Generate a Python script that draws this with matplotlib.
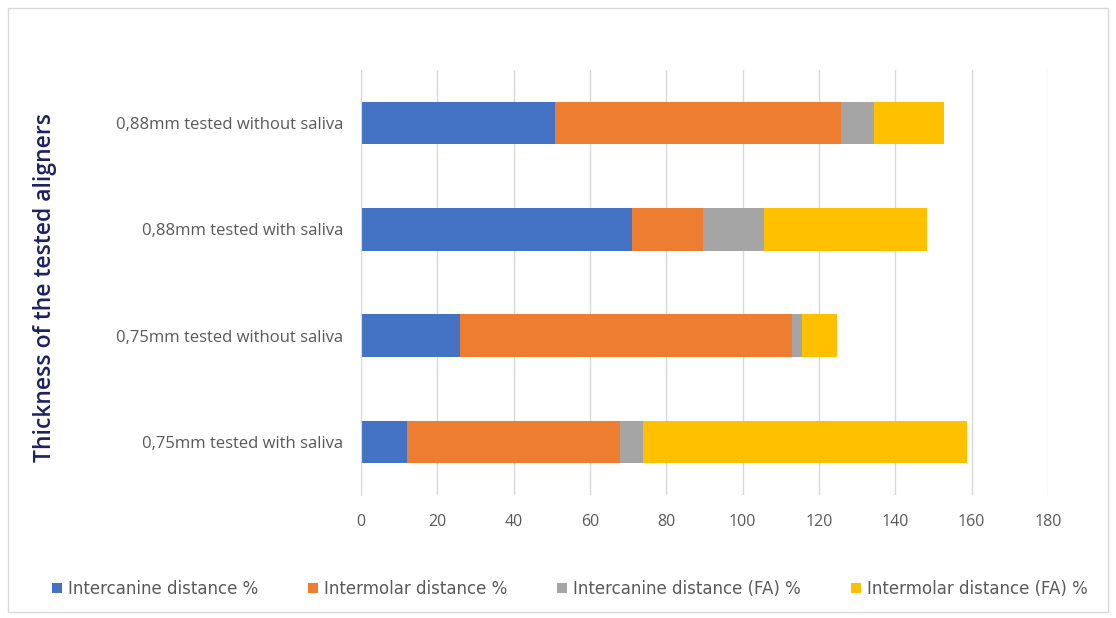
import matplotlib
matplotlib.use("Agg")
import matplotlib.pyplot as plt
from matplotlib.patches import Rectangle
import numpy as np

categories = ["0,75mm tested with saliva", "0,75mm tested without saliva",
              "0,88mm tested with saliva", "0,88mm tested without saliva"]
series_names = ["Intercanine distance %", "Intermolar distance %",
                "Intercanine distance (FA) %", "Intermolar distance (FA) %"]
intercanine = [12.0, 25.9, 71.0, 50.9]
intermolar = [55.8, 86.9, 18.7, 74.8]
intercanine_fa = [6.1, 2.7, 16.0, 8.8]
intermolar_fa = [84.8, 9.3, 42.7, 18.2]
x_ticks = [0, 20, 40, 60, 80, 100, 120, 140, 160, 180]
colors = ["#4472C4", "#ED7D31", "#A5A5A5", "#FFC000"]

fig = plt.figure(figsize=(11.16, 6.18), dpi=100)
ax = fig.add_axes([361/1116, 1-495/618, 687/1116, 425/618])

y = np.arange(len(categories))
left = np.zeros(len(categories))
for vals, name, c in zip([intercanine, intermolar, intercanine_fa, intermolar_fa], series_names, colors):
    ax.barh(y, vals, left=left, height=0.4, color=c, label=name)
    left += np.array(vals)

ax.set_xlim(0, 180)
ax.set_ylim(-0.5, 3.5)
ax.set_xticks(x_ticks)
ax.set_yticks(y)
ax.set_yticklabels(categories)
ax.tick_params(axis="y", length=0, pad=13, labelsize=12, labelcolor="#595959")
ax.tick_params(axis="x", length=0, pad=14, labelsize=11.5, labelcolor="#595959")
for lab in ax.get_yticklabels() + ax.get_xticklabels():
    lab.set_family("Open Sans")
ax.grid(axis="x", color="#D9D9D9", linewidth=1)
ax.set_axisbelow(True)
for s in ["top", "right", "bottom"]:
    ax.spines[s].set_visible(False)
ax.spines["left"].set_color("#D9D9D9")

fig.text(45/1116, 1-287/618, "Thickness of the tested aligners", rotation=90,
         ha="center", va="center", fontsize=16.5, fontweight="semibold",
         color="#1F2060", family="Open Sans")

leg = fig.legend(loc="center", bbox_to_anchor=(570/1116, 1-589/618), ncol=4,
                 frameon=False, fontsize=12, handlelength=0.6, handleheight=0.6,
                 handletextpad=0.35, columnspacing=3.0, labelcolor="#595959")

fig.patches.append(Rectangle((8/1116, 6/618), 1100/1116, 604/618, transform=fig.transFigure,
                             fill=False, edgecolor="#D9D9D9", linewidth=1))

fig.savefig("out.png", dpi=100, facecolor="white")
